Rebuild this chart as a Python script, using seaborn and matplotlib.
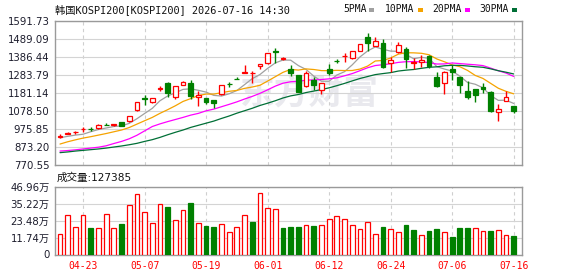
import numpy as np
import pandas as pd
import matplotlib
matplotlib.use("Agg")
import matplotlib.pyplot as plt
from matplotlib.patches import Rectangle
import seaborn as sns

# ---------------- data ----------------
opens = [930, 949, 958, 974, 977, 983, 1001, 997, 1014, 1023,
         1082, 1152, 1128, 1206, 1236, 1160, 1229, 1236, 1156, 1152,
         1141, 1175, 1233, 1262, 1297, 1293, 1335, 1350, 1421, 1377,
         1318, 1284, 1221, 1255, 1198, 1318, 1366, 1391, 1379, 1422,
         1502, 1449, 1468, 1354, 1413, 1432, 1350, 1358, 1392, 1270,
         1240, 1318, 1270, 1192, 1204, 1213, 1189, 1075, 1135, 1107]
highs = [945, 958, 962, 989, 985, 1002, 1008, 1006, 1016, 1050,
         1130, 1168, 1153, 1223, 1246, 1221, 1250, 1255, 1194, 1155,
         1143, 1229, 1244, 1274, 1341, 1308, 1346, 1409, 1436, 1388,
         1341, 1286, 1308, 1274, 1238, 1347, 1375, 1407, 1423, 1463,
         1521, 1499, 1487, 1388, 1474, 1445, 1379, 1398, 1396, 1303,
         1305, 1341, 1272, 1250, 1206, 1240, 1191, 1116, 1193, 1109]
lows = [922, 947, 949, 961, 964, 978, 998, 995, 992, 1018,
        1080, 1115, 1122, 1193, 1156, 1145, 1226, 1145, 1109, 1118,
        1096, 1172, 1217, 1259, 1297, 1240, 1316, 1347, 1354, 1369,
        1278, 1187, 1213, 1198, 1175, 1284, 1350, 1360, 1376, 1420,
        1422, 1447, 1325, 1303, 1407, 1322, 1316, 1331, 1322, 1217,
        1175, 1255, 1183, 1147, 1132, 1183, 1075, 1023, 1133, 1069]
closes = [934, 955, 961, 977, 975, 996, 999, 1004, 993, 1048,
          1128, 1148, 1151, 1210, 1183, 1219, 1246, 1166, 1168, 1132,
          1126, 1227, 1231, 1261, 1299, 1297, 1344, 1407, 1417, 1381,
          1293, 1189, 1297, 1227, 1236, 1293, 1364, 1394, 1421, 1461,
          1464, 1479, 1327, 1369, 1455, 1373, 1358, 1369, 1337, 1221,
          1303, 1299, 1227, 1156, 1170, 1202, 1078, 1090, 1160, 1078]
volumes = [14.4, 27.3, 19.1, 27.3, 18.7, 18.7, 28.0, 18.7, 21.4, 34.2,
           42.4, 29.4, 22.1, 34.9, 33.0, 23.9, 31.0, 35.8, 21.9, 20.0,
           19.4, 21.2, 15.7, 19.1, 27.3, 22.8, 43.1, 32.1, 31.4, 18.7,
           19.1, 19.1, 20.3, 19.8, 20.5, 24.6, 27.1, 24.6, 20.3, 17.5,
           22.8, 14.1, 19.1, 17.5, 15.5, 20.3, 17.1, 13.4, 16.4, 17.8,
           15.5, 12.3, 18.5, 18.5, 18.2, 16.2, 16.2, 16.9, 13.4, 12.74]

# moving-average values before a full window is available
ma5_head = [926, 934, 941, 946]
ma10_head = [890, 903, 914, 924, 932, 941, 950, 960, 970]
ma20_head = [850, 853, 857, 862, 867, 872, 880, 893, 905, 920,
             940, 965, 990, 1005, 1018, 1030, 1042, 1055, 1065]
ma30_head = [841, 845, 850, 854, 858, 862, 867, 873, 879, 886,
             894, 905, 915, 928, 943, 957, 970, 985, 997, 1009,
             1021, 1036, 1050, 1066, 1080, 1094, 1110, 1123, 1137]

price_ticks = [770.55, 873.20, 975.85, 1078.50, 1181.14, 1283.79, 1386.44, 1489.09, 1591.73]
vol_ticks = [0, 11.74, 23.48, 35.22, 46.96]
vol_tick_labels = ["0", "11.74万", "23.48万", "35.22万", "46.96万"]
tick_idx = [3, 11, 19, 27, 35, 43, 51, 59]
tick_labels = ["04-23", "05-07", "05-19", "06-01", "06-12", "06-24", "07-06", "07-16"]
ma_names = ["5PMA", "10PMA", "20PMA", "30PMA"]

# ---------------- style ----------------
sns.set_style("white")
plt.rcParams["font.family"] = ["DejaVu Sans", "Noto Sans CJK SC"]

RED = "#ff0000"
GREEN = "#008000"
MA_COLORS = ["#a0a0a0", "#f5a300", "#ff00ff", "#006f36"]
FRAME = "#9a9a9a"
GRID = "#d4d4d4"

W, H = 578, 276
fig = plt.figure(figsize=(W / 100, H / 100), dpi=100)


def fx(px):
    return px / W


def fy(py):
    return 1 - py / H


L, R = 55, 522
ax = fig.add_axes([fx(L), fy(165), fx(R) - fx(L), fy(21) - fy(165)])
axv = fig.add_axes([fx(L), fy(254.5), fx(R) - fx(L), fy(187) - fy(254.5)])

o = np.array(opens, float)
h = np.array(highs, float)
lo = np.array(lows, float)
c = np.array(closes, float)
v = np.array(volumes, float)
n = len(c)
idx = np.arange(n)

up = c >= o
prev = np.concatenate([[c[0] - 1], c[:-1]])
vup = c >= prev
col = np.where(up, RED, GREEN)
vcol = np.where(vup, RED, GREEN)

# watermark
ax.text(0.545, 0.5, "东方财富", transform=ax.transAxes, ha="center", va="center",
        fontsize=25, fontweight="bold", color="#e9e9ee", family=["Noto Sans CJK SC"], zorder=0)

# MAs
s = pd.Series(c)
heads = [ma5_head, ma10_head, ma20_head, ma30_head]
for win, head, colr in zip([5, 10, 20, 30], heads, MA_COLORS):
    m = s.rolling(win).mean().to_numpy()
    m[:win - 1] = head
    sns.lineplot(x=idx, y=m, ax=ax, color=colr, linewidth=0.9, zorder=2)

# candles
ax.vlines(idx, lo, h, colors=col, linewidth=1.0, zorder=3)
bh = np.maximum(np.abs(c - o), 0.6)
ax.bar(idx, bh, bottom=np.minimum(o, c), width=0.62,
       color=np.where(up, "white", GREEN), edgecolor=col, linewidth=0.9, zorder=4)

ax.set_xlim(-0.65, 60.08)
ax.set_ylim(price_ticks[0], price_ticks[-1])
ax.set_yticks(price_ticks)
ax.set_yticklabels([f"{t:.2f}" for t in price_ticks])
ax.set_xticks(tick_idx)
ax.set_xticklabels([])
ax.tick_params(axis="x", length=0)
ax.tick_params(axis="y", length=3, width=0.8, color=FRAME, labelsize=7.3,
               labelcolor="#1c1c2c", pad=1)
ax.grid(True, axis="y", color=GRID, linewidth=0.8, linestyle="-")
ax.grid(True, axis="x", color="#cfcfcf", linewidth=0.8, linestyle=(0, (3, 3)))
ax.set_axisbelow(True)

# volume
axv.bar(idx, v, width=0.62, color=np.where(vup, "white", GREEN), edgecolor=vcol,
        linewidth=0.9, zorder=3)
axv.set_xlim(-0.65, 60.08)
axv.set_ylim(0, vol_ticks[-1])
axv.set_yticks(vol_ticks)
axv.set_yticklabels(vol_tick_labels)
axv.set_xticks(tick_idx)
axv.set_xticklabels(tick_labels, family=["DejaVu Sans Mono"], fontsize=7, color=RED)
axv.tick_params(axis="x", length=0, pad=5)
axv.tick_params(axis="y", length=3, width=0.8, color=FRAME, labelsize=7.3,
                labelcolor="#1c1c2c", pad=1)
axv.grid(True, axis="y", color=GRID, linewidth=0.8, linestyle="-")
axv.grid(True, axis="x", color="#cfcfcf", linewidth=0.8, linestyle=(0, (3, 3)))
axv.set_axisbelow(True)

for a in (ax, axv):
    for sp in a.spines.values():
        sp.set_color(FRAME)
        sp.set_linewidth(1.0)

# header
fig.text(fx(55), fy(9.5), "韩国KOSPI200[KOSPI200] 2026-07-16 14:30", ha="left", va="center",
         fontsize=7.4, color="#111111", family=["DejaVu Sans Mono", "Noto Sans CJK SC"])
leg_x = [343, 385, 432, 479]
for name, colr, x0 in zip(ma_names, MA_COLORS, leg_x):
    fig.text(fx(x0), fy(9.5), name, ha="left", va="center", fontsize=7,
             color="#111111", family=["DejaVu Sans Mono"])
    w = 6.1 * len(name)
    fig.patches.append(Rectangle((fx(x0 + w + 2), fy(12)), fx(5), 4 / H,
                                 transform=fig.transFigure, facecolor=colr, edgecolor="none"))

fig.text(fx(57), fy(177.5), "成交量:127385", ha="left", va="center", fontsize=7.6,
         color="#111111", family=["DejaVu Sans", "Noto Sans CJK SC"])

fig.savefig("out.png", dpi=100, facecolor="white")
